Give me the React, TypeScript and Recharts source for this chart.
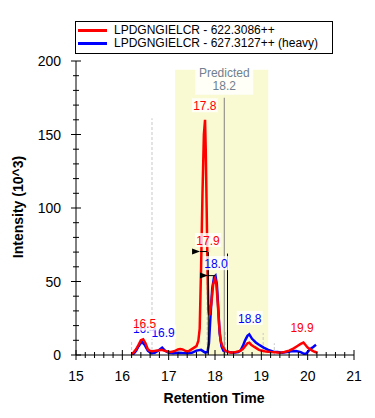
import React from 'react';
import {
  LineChart,
  Line,
  XAxis,
  YAxis,
  ReferenceArea,
  ReferenceLine,
  ReferenceDot,
} from 'recharts';

// light trace: LPDGNGIELCR - 622.3086++
const lightTimes = [
  16.2, 16.25, 16.3, 16.35, 16.4, 16.45, 16.5, 16.55, 16.6, 16.65, 16.7, 16.75, 16.8, 16.85,
  16.9, 16.95, 17.0, 17.05, 17.1, 17.15, 17.2, 17.25, 17.3, 17.35, 17.4, 17.45, 17.5, 17.55,
  17.6, 17.64, 17.67, 17.7, 17.73, 17.76, 17.785, 17.8, 17.82, 17.84, 17.86, 17.88, 17.92,
  17.96, 18.0, 18.03, 18.06, 18.09, 18.12, 18.16, 18.22, 18.3, 18.35, 18.4, 18.45, 18.5,
  18.55, 18.6, 18.65, 18.7, 18.74, 18.78, 18.85, 18.9, 18.95, 19.0, 19.1, 19.2, 19.3, 19.4,
  19.5, 19.6, 19.7, 19.77, 19.85, 19.91, 19.95, 20.0, 20.05, 20.1, 20.15, 20.21,
];
const lightValues = [
  0.5, 2, 4, 7, 10, 10.7, 8, 4, 2.7, 2.5, 2.8, 3, 3.2, 3.5,
  3, 2.5, 2.2, 2, 2.5, 3, 3.8, 4, 3.8, 3, 2.5, 3, 4, 5,
  6, 9.5, 18, 60, 110, 150, 160, 140, 100, 55, 30, 27, 35,
  48, 52, 48, 35, 20, 10, 6, 3, 2, 1.5, 1.8, 2, 2.5,
  3, 4, 6, 8, 8.4, 7, 5.5, 4.5, 3.5, 3, 2.3, 2, 1.8, 1.5,
  2, 3, 4.5, 6, 7.5, 8.4, 7, 5, 4, 3, 2.2, 1.5,
];

// heavy trace: LPDGNGIELCR - 627.3127++ (heavy)
const heavyTimes = [
  16.2, 16.25, 16.3, 16.35, 16.42, 16.48, 16.55, 16.62, 16.7, 16.78, 16.86, 16.92, 17.0,
  17.1, 17.2, 17.3, 17.4, 17.5, 17.6, 17.7, 17.78, 17.84, 17.87, 17.9, 17.94, 17.98, 18.01,
  18.04, 18.07, 18.1, 18.14, 18.18, 18.25, 18.3, 18.4, 18.5, 18.55, 18.6, 18.65, 18.7,
  18.74, 18.8, 18.88, 18.95, 19.05, 19.15, 19.26, 19.35, 19.45, 19.55, 19.65, 19.75, 19.85,
  19.92, 19.97, 20.05, 20.12, 20.18,
];
const heavyValues = [
  0.3, 1, 3, 6, 9, 7, 3, 1.2, 1.5, 3, 5, 3, 1.5,
  1.2, 1.5, 1.3, 1.2, 1.5, 3, 3.5, 1.8, 2, 8, 25, 45, 53, 54,
  48, 32, 15, 6, 3, 2.5, 2, 1.5, 2, 3, 6, 10, 13,
  14, 11, 8.5, 7, 5, 3.5, 2.3, 2, 1.5, 2, 2.5, 2.7, 2,
  0.8, 1, 4, 5.5, 7,
];

const seriesNames = ['LPDGNGIELCR - 622.3086++', 'LPDGNGIELCR - 627.3127++ (heavy)'];
const seriesColors = ['#ff0000', '#0000ff'];

const predictedRT = 18.2;
const predictedWindow = [17.14, 19.15];

// integration boundaries [time, height]
const boundaries = [
  [16.2, 10],
  [16.64, 161],
  [17.83, 51],
  [18.22, 17],
  [19.04, 15],
  [19.28, 8],
];
// id lines [time, height]
const idLines = [
  [17.855, 70],
  [18.27, 69],
];
// arrow tips [time, height]
const arrows = [
  [17.678, 70.4],
  [17.849, 54],
];
// peak labels [text, time, height, series]
const peakLabels: [string, number, number, number][] = [
  ['16.4', 16.48, 15, 1],
  ['16.9', 16.88, 12.2, 1],
  ['16.5', 16.48, 18.1, 0],
  ['17.8', 17.78, 166.5, 0],
  ['17.9', 17.85, 74.8, 0],
  ['18.0', 18.02, 59.1, 1],
  ['18.8', 18.75, 21.8, 1],
  ['19.9', 19.88, 15.8, 0],
];

const xTicks = Array.from({ length: 31 }, (_, i) => Math.round((15 + i * 0.2) * 10) / 10);
const yTicks = Array.from({ length: 21 }, (_, i) => i * 10);

const font = '"Liberation Sans", Arial, sans-serif';

const lightData = lightTimes.map((t, i) => ({ t, v: lightValues[i] }));
const heavyData = heavyTimes.map((t, i) => ({ t, v: heavyValues[i] }));

const XTick = (props: any) => {
  const { x, y, payload } = props;
  const v = payload.value;
  const major = Math.abs(v - Math.round(v)) < 1e-6;
  const h = major ? 5 : 3;
  return (
    <g>
      <line x1={x} x2={x} y1={y - h} y2={y + h} stroke="#000" />
      {major && (
        <text x={x} y={y + 26} textAnchor="middle" fontSize={14} fontFamily={font} fill="#000">
          {Math.round(v)}
        </text>
      )}
    </g>
  );
};

const YTick = (props: any) => {
  const { x, y, payload } = props;
  const v = payload.value;
  const major = v % 50 === 0;
  const h = major ? 5 : 3;
  return (
    <g>
      <line x1={x - h} x2={x + h} y1={y} y2={y} stroke="#000" />
      {major && (
        <text x={x - 15} y={y + 5} textAnchor="end" fontSize={14} fontFamily={font} fill="#000">
          {v}
        </text>
      )}
    </g>
  );
};

const Tag = ({ cx, cy, text, color }: any) => (
  <g>
    <rect x={cx - 13} y={cy - 12} width={26} height={14} fill="#fff" fillOpacity={0.8} />
    <text x={cx} y={cy} textAnchor="middle" fontSize={12} fontFamily={font} fill={color}>
      {text}
    </text>
  </g>
);

const Arrow = ({ cx, cy }: any) => (
  <g>
    <polygon points={`${cx - 8},${cy - 3} ${cx},${cy} ${cx - 8},${cy + 3}`} fill="#000" />
    <line x1={cx} x2={cx + 7} y1={cy} y2={cy} stroke="#000" />
  </g>
);

const PredictedLabel = (props: any) => {
  const { viewBox } = props;
  const x = viewBox.x;
  const top = viewBox.y;
  return (
    <g>
      <rect x={x - 29} y={top - 34} width={58} height={31} fill="#fff" fillOpacity={0.85} />
      <text x={x} y={top - 21} textAnchor="middle" fontSize={12} fontFamily={font} fill="#708090">
        Predicted
      </text>
      <text x={x} y={top - 8} textAnchor="middle" fontSize={12} fontFamily={font} fill="#708090">
        {predictedRT}
      </text>
    </g>
  );
};

const XTitle = () => (
  <text x={214} y={403} textAnchor="middle" fontSize={14} fontWeight="bold" fontFamily={font} fill="#000">
    Retention Time
  </text>
);

const YTitle = () => (
  <text
    x={23}
    y={207}
    transform="rotate(-90 23 207)"
    textAnchor="middle"
    fontSize={14}
    fontWeight="bold"
    fontFamily={font}
    fill="#000"
  >
    Intensity (10^3)
  </text>
);

export default function App() {
  return (
    <div style={{ position: 'absolute', left: 0, top: 0, width: 375, height: 418, background: '#fff' }}>
      <LineChart width={375} height={418} margin={{ top: 61, right: 21, bottom: 15, left: 0 }}>
        <XAxis
          dataKey="t"
          type="number"
          domain={[15, 21]}
          ticks={xTicks}
          interval={0}
          tickSize={0}
          tickMargin={0}
          tickLine={false}
          tick={<XTick />}
          height={48}
          stroke="#000"
          allowDataOverflow
          label={<XTitle />}
        />
        <YAxis
          type="number"
          domain={[0, 200]}
          ticks={yTicks}
          interval={0}
          tickSize={0}
          tickMargin={0}
          tickLine={false}
          tick={<YTick />}
          width={76}
          stroke="#000"
          allowDataOverflow
          label={<YTitle />}
        />
        <ReferenceArea
          x1={predictedWindow[0]}
          x2={predictedWindow[1]}
          y1={0}
          y2={194}
          fill="#fafad2"
          fillOpacity={1}
          stroke="none"
        />
        {boundaries.map(([t, h], i) => (
          <ReferenceLine
            key={'b' + i}
            segment={[{ x: t, y: 0 }, { x: t, y: h }]}
            stroke="#c8c8c8"
            strokeDasharray="3 2"
          />
        ))}
        <ReferenceLine
          segment={[{ x: predictedRT, y: 0 }, { x: predictedRT, y: 175 }]}
          stroke="#808080"
          label={<PredictedLabel />}
        />
        <Line
          data={heavyData}
          dataKey="v"
          type="linear"
          stroke={seriesColors[1]}
          strokeWidth={2.5}
          dot={false}
          activeDot={false}
          isAnimationActive={false}
        />
        <Line
          data={lightData}
          dataKey="v"
          type="linear"
          stroke={seriesColors[0]}
          strokeWidth={2.5}
          dot={false}
          activeDot={false}
          isAnimationActive={false}
        />
        {idLines.map(([t, h], i) => (
          <ReferenceLine key={'id' + i} segment={[{ x: t, y: 0 }, { x: t, y: h }]} stroke="#000" />
        ))}
        {arrows.map(([t, h], i) => (
          <ReferenceDot key={'a' + i} x={t} y={h} r={0} shape={(p: any) => <Arrow cx={p.cx} cy={p.cy} />} />
        ))}
        {peakLabels.map(([text, t, h, s], i) => (
          <ReferenceDot
            key={'l' + i}
            x={t}
            y={h}
            r={0}
            shape={(p: any) => <Tag cx={p.cx} cy={p.cy} text={text} color={seriesColors[s]} />}
          />
        ))}
      </LineChart>
      <div
        style={{
          position: 'absolute',
          left: 75,
          top: 21,
          width: 256,
          height: 31,
          border: '1px solid #000',
          background: '#fff',
          fontFamily: font,
          fontSize: 12,
        }}
      >
        {seriesNames.map((name, i) => (
          <div key={name} style={{ position: 'absolute', left: 0, top: 2 + i * 13, height: 13, width: 256 }}>
            <div
              style={{
                position: 'absolute',
                left: 2,
                top: 5,
                width: 29,
                height: 3,
                background: seriesColors[i],
              }}
            />
            <div style={{ position: 'absolute', left: 38, top: 0, lineHeight: '13px', whiteSpace: 'nowrap', color: '#000' }}>
              {name}
            </div>
          </div>
        ))}
      </div>
    </div>
  );
}
